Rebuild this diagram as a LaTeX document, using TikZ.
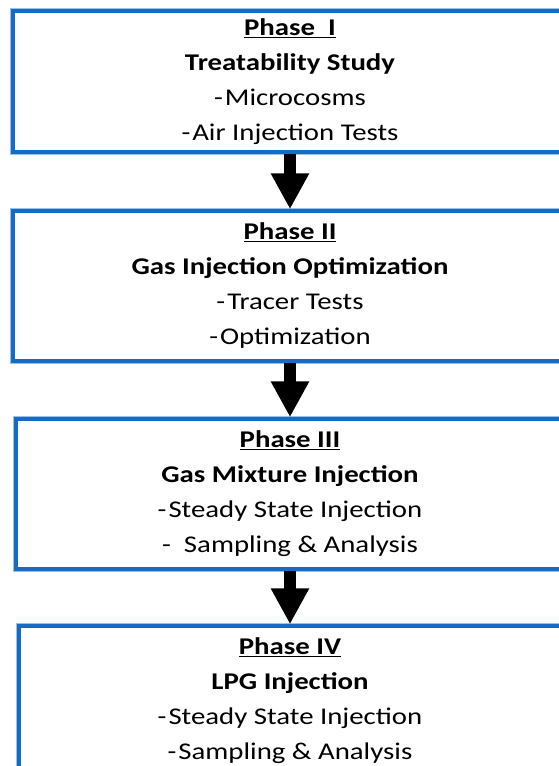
\documentclass[tikz,border=0pt]{standalone}
\usepackage{fontspec}
\setmainfont{Carlito}[FakeStretch=1.2]
\usetikzlibrary{arrows.meta}
\definecolor{boxblue}{RGB}{22,108,196}
\definecolor{haloblue}{RGB}{150,195,235}

\begin{document}
\begin{tikzpicture}[x=1pt,y=-1pt,
    phase/.style={draw=boxblue, line width=3.5pt, preaction={draw=haloblue, line width=6pt},
        fill=white, inner sep=0pt, align=center, font=\fontsize{24}{35}\selectfont},
    flow/.style={-{Triangle[width=36pt,length=36pt]}, line width=12pt}]
    \useasboundingbox (0,0) rectangle (559,766);
    \clip (0,0) rectangle (559,766);

    % the four phases, boxes run off the right edge
    \node[phase, minimum width=554pt, minimum height=141pt] (p1) at (290,81.5)
        {\underline{\textbf{Phase\ \ I}}\\ \textbf{Treatability Study}\\ -\kern2pt Microcosms\\ -\kern2pt Air Injection Tests};
    \node[phase, minimum width=554pt, minimum height=150pt] (p2) at (290,286)
        {\underline{\textbf{Phase II}}\\ \textbf{Gas Injection Optimization}\\ -\kern2pt Tracer Tests\\ -\kern2pt Optimization};
    \node[phase, minimum width=548pt, minimum height=150pt] (p3) at (290,494)
        {\underline{\textbf{Phase III}}\\ \textbf{Gas Mixture Injection}\\ -\kern2pt Steady State Injection\\ -\ \ Sampling \& Analysis};
    \node[phase, minimum width=542pt, minimum height=150pt] (p4) at (290,701)
        {\underline{\textbf{Phase IV}}\\ \textbf{LPG Injection}\\ -\kern2pt Steady State Injection\\ -\kern2pt Sampling \& Analysis};

    \draw [flow] (p1.south) -- (p2.north);
    \draw [flow] (p2.south) -- (p3.north);
    \draw [flow] (p3.south) -- (p4.north);
\end{tikzpicture}
\end{document}
